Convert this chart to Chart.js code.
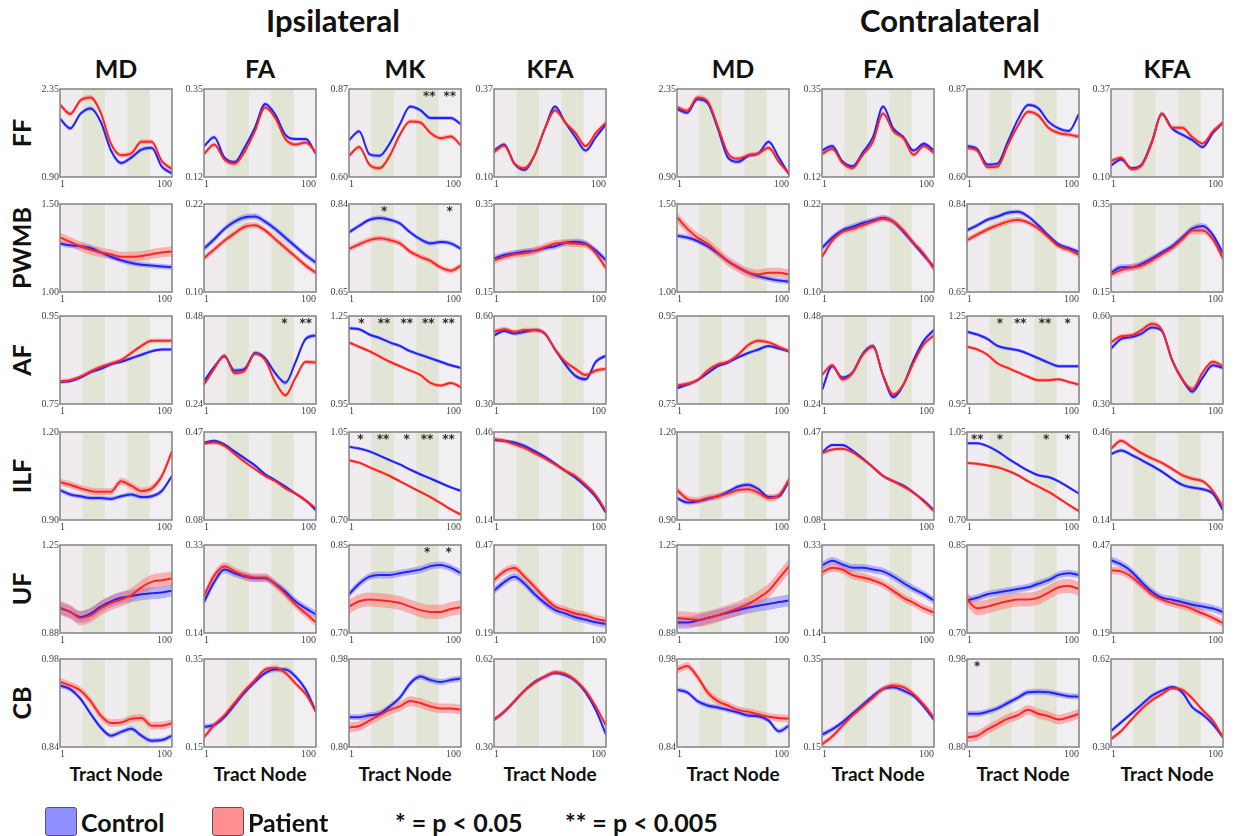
<!DOCTYPE html>
<html><head><meta charset="utf-8">
<script src="https://cdn.jsdelivr.net/npm/chart.js@4.4.1/dist/chart.umd.min.js"></script>
<style>
html,body{margin:0;padding:0;background:#fff;}
#wrap{position:relative;width:1239px;height:836px;overflow:hidden;font-family:Lato,"Open Sans",sans-serif;color:#111;}
.t{position:absolute;transform:translate(-50%,-50%);white-space:nowrap;font-weight:700;line-height:1;}
.rot{transform:translate(-50%,-50%) rotate(-90deg);}
.panel{position:absolute;}
.sw{position:absolute;border:1.5px solid #555;border-radius:3px;box-sizing:border-box;}
.lg{position:absolute;white-space:nowrap;font-size:25px;font-weight:700;line-height:1;transform:translateY(-50%);}
</style></head><body><div id="wrap"></div>
<script>
// ---------------- data ----------------
const nodes = [1,10,19,28,37,46,55,64,73,82,91,100];
const sides = ['Ipsilateral','Contralateral'];
const metrics = ['MD','FA','MK','KFA'];
const tracts = ['FF','PWMB','AF','ILF','UF','CB'];
const xTickLabels = ['1','100'];
const yMin = {FF:[0.90,0.12,0.60,0.10], PWMB:[1.00,0.10,0.65,0.15], AF:[0.75,0.24,0.95,0.30], ILF:[0.90,0.08,0.70,0.14], UF:[0.88,0.14,0.70,0.19], CB:[0.84,0.15,0.80,0.30]};
const yMax = {FF:[2.35,0.35,0.87,0.37], PWMB:[1.50,0.22,0.84,0.35], AF:[0.95,0.48,1.25,0.60], ILF:[1.20,0.47,1.05,0.46], UF:[1.25,0.33,0.85,0.47], CB:[0.98,0.35,0.98,0.62]};

// each array: [MD, FA, MK, KFA], values at the nodes above
const FF_ipsi_control = [
 [1.86,1.70,1.94,2.03,1.81,1.34,1.13,1.22,1.35,1.38,1.07,0.96],
 [.200,.224,.171,.159,.198,.249,.311,.283,.230,.219,.219,.180],
 [.713,.740,.670,.665,.703,.762,.816,.805,.781,.781,.781,.762],
 [.181,.200,.141,.122,.168,.249,.316,.267,.222,.181,.222,.262]];
const FF_ipsi_patient = [
 [2.09,1.94,2.16,2.21,1.96,1.45,1.26,1.29,1.48,1.48,1.16,1.03],
 [.180,.205,.166,.155,.187,.240,.302,.274,.219,.205,.210,.184],
 [.665,.692,.638,.627,.665,.730,.770,.767,.735,.719,.724,.697],
 [.176,.197,.141,.127,.168,.249,.305,.267,.235,.195,.235,.267]];
const FF_contra_control = [
 [2.02,1.96,2.18,2.12,1.70,1.22,1.15,1.25,1.29,1.48,1.22,0.94],
 [.189,.201,.161,.148,.184,.224,.304,.247,.224,.189,.207,.189],
 [.695,.686,.638,.641,.708,.776,.821,.811,.770,.749,.741,.794],
 [.135,.154,.127,.138,.208,.294,.249,.230,.213,.192,.235,.267]];
const FF_contra_patient = [
 [2.05,1.99,2.21,2.15,1.74,1.29,1.20,1.26,1.29,1.38,1.15,0.96],
 [.180,.194,.157,.143,.178,.212,.286,.240,.221,.178,.201,.182],
 [.689,.681,.630,.632,.697,.757,.800,.789,.751,.735,.730,.724],
 [.149,.159,.124,.135,.203,.294,.251,.251,.222,.203,.240,.267]];

const PWMB_ipsi_control = [
 [1.275,1.265,1.26,1.25,1.225,1.20,1.18,1.165,1.155,1.15,1.145,1.14],
 [.159,.172,.186,.196,.202,.203,.196,.186,.174,.162,.150,.140],
 [.779,.793,.806,.810,.806,.798,.779,.764,.755,.758,.755,.743],
 [.226,.234,.238,.242,.244,.25,.254,.262,.264,.26,.244,.222]];
const PWMB_ipsi_patient = [
 [1.31,1.285,1.26,1.24,1.225,1.215,1.20,1.20,1.205,1.215,1.225,1.23],
 [.146,.158,.170,.180,.189,.191,.184,.172,.160,.148,.136,.126],
 [.743,.753,.762,.766,.762,.755,.737,.726,.717,.703,.696,.707],
 [.222,.23,.236,.238,.244,.252,.26,.262,.26,.258,.238,.204]];
const PWMB_contra_control = [
 [1.32,1.31,1.29,1.26,1.22,1.175,1.14,1.11,1.09,1.075,1.065,1.06],
 [.16,.174,.184,.189,.194,.198,.201,.196,.182,.166,.150,.134],
 [.783,.794,.806,.813,.821,.823,.813,.794,.772,.753,.745,.736],
 [.194,.206,.206,.214,.226,.24,.254,.274,.294,.30,.28,.238]];
const PWMB_contra_patient = [
 [1.425,1.36,1.31,1.275,1.225,1.175,1.14,1.11,1.10,1.11,1.11,1.10],
 [.148,.170,.182,.186,.191,.196,.20,.196,.184,.167,.152,.131],
 [.762,.774,.785,.794,.802,.806,.80,.787,.768,.749,.741,.73],
 [.19,.20,.206,.21,.222,.236,.25,.27,.29,.29,.27,.226]];

const AF_ipsi_control = [
 [.80,.802,.81,.822,.83,.84,.846,.854,.862,.87,.874,.874],
 [.302,.341,.37,.331,.336,.379,.365,.324,.298,.355,.418,.427],
 [1.208,1.205,1.187,1.175,1.16,1.148,1.13,1.118,1.106,1.094,1.082,1.073],
 [.534,.549,.54,.546,.552,.54,.486,.435,.396,.384,.444,.465]];
const AF_ipsi_patient = [
 [.802,.804,.812,.824,.834,.842,.85,.866,.882,.894,.894,.894],
 [.293,.336,.372,.324,.331,.377,.36,.30,.264,.312,.355,.353],
 [1.16,1.145,1.13,1.112,1.094,1.079,1.064,1.049,1.022,1.013,1.022,1.007],
 [.546,.555,.546,.552,.552,.54,.486,.444,.42,.399,.414,.42]];
const AF_contra_control = [
 [.786,.794,.804,.82,.836,.844,.856,.866,.874,.882,.876,.87],
 [.278,.343,.312,.326,.377,.398,.317,.259,.293,.36,.413,.442],
 [1.196,1.187,1.172,1.148,1.139,1.133,1.121,1.106,1.091,1.079,1.079,1.079],
 [.489,.522,.528,.54,.561,.549,.45,.384,.342,.39,.432,.423]];
const AF_contra_patient = [
 [.792,.796,.804,.826,.84,.846,.862,.884,.894,.89,.88,.87],
 [.319,.346,.307,.324,.374,.396,.319,.266,.293,.353,.403,.427],
 [1.145,1.136,1.118,1.088,1.073,1.058,1.043,1.031,1.031,1.034,1.025,1.016],
 [.51,.531,.534,.552,.573,.552,.45,.384,.351,.408,.444,.429]];

const ILF_ipsi_control = [
 [1.002,.987,.981,.975,.975,.972,.981,.987,.978,.981,.999,1.05],
 [.423,.431,.415,.384,.353,.322,.283,.256,.228,.197,.166,.123],
 [.991,.984,.973,.956,.938,.921,.90,.882,.865,.847,.83,.816],
 [.431,.428,.422,.409,.39,.37,.345,.319,.294,.262,.223,.166]];
const ILF_ipsi_patient = [
 [1.029,1.02,1.008,.999,.996,.996,1.032,1.017,.999,1.008,1.05,1.134],
 [.419,.423,.408,.373,.337,.306,.275,.252,.22,.197,.166,.131],
 [.938,.928,.91,.893,.875,.854,.833,.812,.791,.767,.742,.721],
 [.434,.428,.415,.402,.383,.364,.342,.319,.30,.268,.23,.172]];
const ILF_contra_control = [
 [.975,.96,.963,.972,.981,.996,1.014,1.02,1.005,.978,.981,1.032],
 [.38,.412,.412,.388,.353,.314,.275,.252,.232,.201,.166,.123],
 [1.005,1.005,.994,.973,.945,.92,.896,.878,.871,.854,.83,.805],
 [.38,.393,.377,.358,.338,.316,.29,.268,.258,.252,.236,.175]];
const ILF_contra_patient = [
 [1.002,.972,.966,.975,.981,.99,1.002,1.005,.993,.975,.984,1.038],
 [.376,.392,.396,.38,.349,.314,.275,.252,.228,.201,.162,.119],
 [.927,.924,.917,.91,.896,.878,.854,.833,.812,.787,.76,.735],
 [.399,.428,.406,.383,.364,.348,.326,.303,.29,.281,.246,.188]];

const UF_ipsi_control = [
 [.984,.969,.947,.961,.991,1.013,1.028,1.035,1.043,1.047,1.05,1.058],
 [.207,.25,.277,.269,.262,.258,.258,.246,.229,.208,.193,.18],
 [.766,.784,.796,.799,.799,.802,.805,.808,.814,.816,.811,.802],
 [.324,.352,.369,.347,.313,.285,.263,.252,.24,.232,.224,.218]];
const UF_ipsi_patient = [
 [.987,.969,.943,.954,.984,1.006,1.021,1.039,1.072,1.095,1.102,1.109],
 [.22,.264,.284,.273,.264,.26,.26,.245,.224,.201,.182,.163],
 [.745,.754,.757,.756,.754,.751,.745,.739,.736,.736,.741,.744],
 [.358,.386,.397,.369,.336,.302,.274,.263,.252,.246,.235,.229]];
const UF_contra_control = [
 [.924,.924,.932,.943,.954,.965,.976,.987,.995,1.002,1.01,1.017],
 [.286,.296,.288,.281,.281,.277,.273,.262,.248,.235,.224,.21],
 [.756,.76,.766,.769,.772,.775,.778,.784,.79,.799,.802,.799],
 [.422,.408,.386,.352,.322,.302,.296,.288,.28,.274,.268,.257]];
const UF_contra_patient = [
 [.943,.939,.936,.943,.954,.969,.984,1.002,1.028,1.058,1.109,1.161],
 [.271,.281,.277,.265,.26,.254,.245,.231,.216,.205,.193,.184],
 [.757,.742,.745,.75,.754,.757,.757,.76,.769,.778,.78,.775],
 [.389,.386,.369,.341,.313,.296,.285,.277,.266,.252,.238,.221]];

const CB_ipsi_control = [
 [.938,.932,.917,.893,.871,.858,.864,.869,.858,.85,.851,.858],
 [.196,.20,.218,.246,.274,.298,.318,.326,.326,.31,.28,.23],
 [.861,.861,.865,.868,.883,.901,.93,.944,.937,.933,.937,.94],
 [.399,.428,.466,.505,.537,.556,.569,.562,.54,.498,.434,.345]];
const CB_ipsi_patient = [
 [.944,.938,.93,.913,.89,.878,.879,.885,.886,.874,.874,.878],
 [.172,.20,.222,.25,.278,.302,.326,.33,.318,.294,.27,.23],
 [.84,.843,.854,.865,.876,.883,.894,.89,.883,.879,.879,.876],
 [.399,.428,.466,.505,.534,.556,.572,.566,.543,.505,.447,.377]];
const CB_contra_control = [
 [.931,.927,.913,.906,.903,.899,.895,.89,.889,.882,.865,.874],
 [.178,.19,.206,.226,.246,.266,.282,.286,.278,.266,.242,.212],
 [.868,.868,.872,.879,.89,.901,.912,.913,.912,.908,.904,.903],
 [.358,.39,.422,.454,.486,.505,.518,.498,.444,.418,.383,.335]];
const CB_contra_patient = [
 [.963,.969,.952,.927,.913,.906,.899,.896,.892,.888,.886,.885],
 [.156,.174,.198,.222,.242,.262,.282,.29,.286,.27,.246,.216],
 [.82,.823,.836,.847,.858,.865,.876,.868,.863,.856,.861,.868],
 [.329,.358,.399,.438,.47,.492,.514,.508,.476,.434,.396,.335]];

// half-width of the shaded spread band, per tract [MD, FA, MK, KFA]
const spreadControl = {FF:[.035,.005,.006,.006], PWMB:[.015,.004,.005,.007], AF:[.004,.006,.006,.007], ILF:[.008,.007,.006,.007], UF:[.025,.008,.006,.012], CB:[.004,.006,.006,.008]};
const spreadPatient = {FF:[.04,.006,.007,.007], PWMB:[.028,.004,.006,.008], AF:[.005,.006,.006,.008], ILF:[.012,.008,.006,.008], UF:[.03,.009,.012,.012], CB:[.006,.006,.01,.008]};

// significance marks: side (0 ipsi, 1 contra), tract, metric, node, mark
const sigMarks = [
 [0,'FF','MK',72,'**'],[0,'FF','MK',90,'**'],
 [0,'PWMB','MK',32,'*'],[0,'PWMB','MK',90,'*'],
 [0,'AF','FA',72,'*'],[0,'AF','FA',91,'**'],
 [0,'AF','MK',12,'*'],[0,'AF','MK',32,'**'],[0,'AF','MK',52,'**'],[0,'AF','MK',71,'**'],[0,'AF','MK',89,'**'],
 [0,'ILF','MK',11,'*'],[0,'ILF','MK',31,'**'],[0,'ILF','MK',52,'*'],[0,'ILF','MK',70,'**'],[0,'ILF','MK',89,'**'],
 [0,'UF','MK',70,'*'],[0,'UF','MK',89,'*'],
 [1,'AF','MK',30,'*'],[1,'AF','MK',48,'**'],[1,'AF','MK',70,'**'],[1,'AF','MK',90,'*'],
 [1,'ILF','MK',10,'**'],[1,'ILF','MK',30,'*'],[1,'ILF','MK',71,'*'],[1,'ILF','MK',90,'*'],
 [1,'CB','MK',10,'*']
];

const series = {
 0:{FF:[FF_ipsi_control,FF_ipsi_patient], PWMB:[PWMB_ipsi_control,PWMB_ipsi_patient], AF:[AF_ipsi_control,AF_ipsi_patient], ILF:[ILF_ipsi_control,ILF_ipsi_patient], UF:[UF_ipsi_control,UF_ipsi_patient], CB:[CB_ipsi_control,CB_ipsi_patient]},
 1:{FF:[FF_contra_control,FF_contra_patient], PWMB:[PWMB_contra_control,PWMB_contra_patient], AF:[AF_contra_control,AF_contra_patient], ILF:[ILF_contra_control,ILF_contra_patient], UF:[UF_contra_control,UF_contra_patient], CB:[CB_contra_control,CB_contra_patient]}
};

// ---------------- layout / style ----------------
const colLeft = [[60,204,349,494],[677,822,967,1111]];
const rowTop = [89,204,316,432,545,659];
const boxW = 112, boxH = 88, padL = 30, padT = 7, padR = 12, padB = 14;
const BLUE = '#2222ff', RED = '#ff2424';
const BLUE_BAND = 'rgba(95,95,255,0.42)', RED_BAND = 'rgba(255,95,95,0.42)';
const stripeColors = ['#efebee','#e2e5d5','#eeecee','#e2e5d5','#f1eff1'];
const wrap = document.getElementById('wrap');

function addText(txt, cx, cy, size, cls){
  const d = document.createElement('div');
  d.className = 't' + (cls ? ' ' + cls : '');
  d.textContent = txt; d.style.left = cx + 'px'; d.style.top = cy + 'px'; d.style.fontSize = size + 'px';
  wrap.appendChild(d);
}

const panelPlugin = {
  id: 'panelDeco',
  beforeDatasetsDraw(chart){
    const a = chart.chartArea, ctx = chart.ctx, w = (a.right - a.left) / stripeColors.length;
    ctx.save();
    stripeColors.forEach((c,i)=>{ ctx.fillStyle = c; ctx.fillRect(a.left + i*w, a.top, w + 0.5, a.bottom - a.top); });
    ctx.restore();
  },
  afterDraw(chart){
    const a = chart.chartArea, ctx = chart.ctx, o = chart.options.plugins.panelDeco;
    ctx.save();
    ctx.strokeStyle = '#8a8a8a'; ctx.lineWidth = 1.6;
    ctx.strokeRect(a.left, a.top, a.right - a.left, a.bottom - a.top);
    ctx.fillStyle = '#2a2a2a'; ctx.font = 'bold 12px "DejaVu Sans"'; ctx.textAlign = 'center'; ctx.textBaseline = 'middle';
    (o.marks || []).forEach(m => {
      const x = chart.scales.x.getPixelForValue(m[3]);
      ctx.fillText(m[4], x, a.top + 8);
    });
    ctx.restore();
  }
};

function makePanel(si, ti, mi){
  const tract = tracts[ti];
  const ctrl = series[si][tract][0][mi], pat = series[si][tract][1][mi];
  const sc = spreadControl[tract][mi], sp = spreadPatient[tract][mi];
  const lo = yMin[tract][mi], hi = yMax[tract][mi];
  const W = padL + boxW + padR, H = padT + boxH + padB;
  const cv = document.createElement('canvas');
  cv.width = W; cv.height = H; cv.className = 'panel';
  cv.style.left = (colLeft[si][mi] - padL) + 'px'; cv.style.top = (rowTop[ti] - padT) + 'px';
  cv.style.width = W + 'px'; cv.style.height = H + 'px';
  wrap.appendChild(cv);
  const pts = (arr, d) => arr.map((v,i)=>({x: nodes[i], y: v + d}));
  const base = {pointRadius: 0, borderWidth: 0, fill: false};
  const marks = sigMarks.filter(m => m[0] === si && m[1] === tract && m[2] === metrics[mi]);
  new Chart(cv, {
    type: 'line',
    data: {datasets: [
      Object.assign({}, base, {data: pts(pat,0), borderColor: RED, borderWidth: 2}),
      Object.assign({}, base, {data: pts(ctrl,0), borderColor: BLUE, borderWidth: 2}),
      Object.assign({}, base, {data: pts(pat, sp), backgroundColor: RED_BAND}),
      Object.assign({}, base, {data: pts(pat, -sp), backgroundColor: RED_BAND, fill: '-1'}),
      Object.assign({}, base, {data: pts(ctrl, sc), backgroundColor: BLUE_BAND}),
      Object.assign({}, base, {data: pts(ctrl, -sc), backgroundColor: BLUE_BAND, fill: '-1'})
    ]},
    options: {
      responsive: false, animation: false, devicePixelRatio: 1,
      layout: {padding: {top: padT, right: padR, left: 0, bottom: 0}},
      elements: {line: {cubicInterpolationMode: 'monotone'}},
      plugins: {legend: {display: false}, tooltip: {enabled: false}, panelDeco: {marks}},
      scales: {
        x: {type: 'linear', min: 1, max: 100,
            grid: {display: false, drawTicks: false}, border: {display: false},
            afterBuildTicks: s => { s.ticks = [{value: 1}, {value: 100}]; },
            afterFit: s => { s.height = padB; },
            ticks: {padding: 1, maxRotation: 0, autoSkip: false, align: 'inner', color: '#444',
                    font: {family: '"Liberation Serif"', size: 10}, callback: (v, i) => xTickLabels[i]}},
        y: {min: lo, max: hi,
            grid: {display: false, drawTicks: false}, border: {display: false},
            afterBuildTicks: s => { s.ticks = [{value: lo}, {value: hi}]; },
            afterFit: s => { s.width = padL; },
            ticks: {padding: 1, autoSkip: false, color: '#444',
                    font: {family: '"Liberation Serif"', size: 10}, callback: v => Number(v).toFixed(2)}}
      }
    },
    plugins: [panelPlugin]
  });
}

// titles
addText(sides[0], 333, 20, 31);
addText(sides[1], 950, 20, 31);
for (let si = 0; si < 2; si++) {
  metrics.forEach((m, mi) => {
    const cx = colLeft[si][mi] + boxW/2;
    addText(m, cx, 68, 25);
    addText('Tract Node', cx, 773, 19);
  });
}
tracts.forEach((t, ti) => addText(t, 21, rowTop[ti] + boxH/2, 25, 'rot'));

for (let si = 0; si < 2; si++)
  for (let ti = 0; ti < tracts.length; ti++)
    for (let mi = 0; mi < metrics.length; mi++) makePanel(si, ti, mi);

// legend
function sw(left, color){ const d = document.createElement('div'); d.className = 'sw'; d.style.left = left + 'px'; d.style.top = '807px'; d.style.width = '32px'; d.style.height = '29px'; d.style.background = color; wrap.appendChild(d); }
function lg(left, txt){ const d = document.createElement('div'); d.className = 'lg'; d.style.left = left + 'px'; d.style.top = '822px'; d.textContent = txt; wrap.appendChild(d); }
sw(45, '#8f8fff'); lg(81, 'Control');
sw(212, '#ff8f8f'); lg(248, 'Patient');
lg(395, '* = p < 0.05');
lg(565, '** = p < 0.005');
</script></body></html>
